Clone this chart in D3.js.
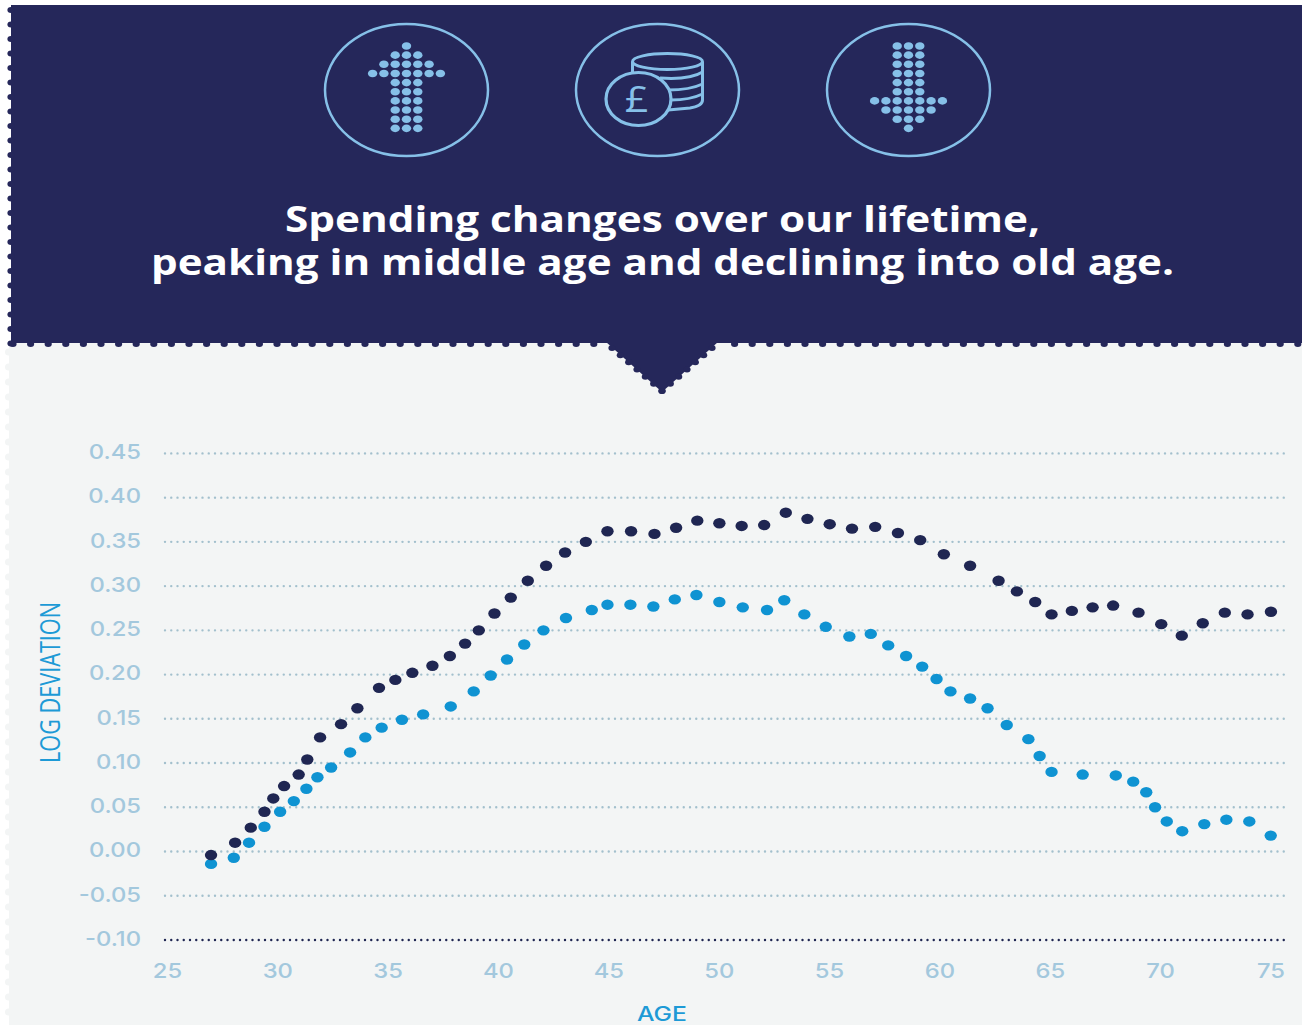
<!DOCTYPE html>
<html><head><meta charset="utf-8">
<script src="https://cdn.jsdelivr.net/npm/d3@7"></script>
<style>html,body{margin:0;padding:0;background:#fff;overflow:hidden}svg{display:block}text{font-family:"Open Sans",sans-serif}</style>
</head><body><svg id="c" width="1302" height="1025"></svg>
<script>
const title = ["Spending changes over our lifetime,", "peaking in middle age and declining into old age."];
const xLabel = "AGE";
const yLabel = "LOG DEVIATION";
const xTicks = [25,30,35,40,45,50,55,60,65,70,75];
const yTicks = [-0.10,-0.05,0,0.05,0.10,0.15,0.20,0.25,0.30,0.35,0.40,0.45];
const darkAges = [27,28.09,28.8,29.42,29.82,30.31,30.97,31.36,31.94,32.89,33.63,34.61,35.35,36.12,37.03,37.82,38.51,39.13,39.84,40.58,41.35,42.18,43.04,43.98,44.96,46.03,47.09,48.07,49.03,50.03,51.04,52.06,53.04,54.02,55.03,56.04,57.09,58.12,59.13,60.2,61.39,62.68,63.51,64.34,65.08,66,66.94,67.87,69.02,70.05,70.98,71.93,72.93,73.96,75.02];
const darkValues = [-0.004,0.010,0.027,0.045,0.060,0.074,0.087,0.104,0.129,0.144,0.162,0.185,0.194,0.202,0.210,0.221,0.235,0.250,0.269,0.287,0.306,0.323,0.338,0.350,0.362,0.362,0.359,0.366,0.374,0.371,0.368,0.369,0.383,0.376,0.370,0.365,0.367,0.360,0.352,0.336,0.323,0.306,0.294,0.282,0.268,0.272,0.276,0.278,0.270,0.257,0.244,0.258,0.270,0.268,0.271];
const lightAges = [27,28.03,28.72,29.42,30.13,30.75,31.32,31.82,32.44,33.3,33.99,34.73,35.65,36.61,37.86,38.9,39.67,40.41,41.19,42.06,43.08,44.25,44.96,46,47.04,48.01,48.99,50.03,51.09,52.19,52.97,53.88,54.85,55.92,56.89,57.68,58.49,59.22,59.87,60.5,61.39,62.18,63.05,64.03,64.54,65.08,66.49,67.99,68.78,69.37,69.77,70.3,71,72,73,74.04,75.01];
const lightValues = [-0.014,-0.007,0.010,0.028,0.045,0.057,0.071,0.084,0.095,0.112,0.129,0.140,0.149,0.155,0.164,0.181,0.199,0.217,0.234,0.250,0.264,0.273,0.279,0.279,0.277,0.285,0.290,0.282,0.276,0.273,0.284,0.268,0.254,0.243,0.246,0.233,0.221,0.209,0.195,0.181,0.173,0.162,0.143,0.127,0.108,0.090,0.087,0.086,0.079,0.067,0.050,0.034,0.023,0.031,0.036,0.034,0.018];
const arrowUpRows = [1,3,5,7,3,3,3,3,3,3];
const arrowDownRows = [3,3,3,3,3,3,7,5,3,1];

const NAVY="#25275a", PANEL="#f3f5f5", ICON="#86c0e8", TICK="#a3c8dd", GRID="#a3c0cd", DARK="#1f2652", LIGHT="#0f93d2", LABEL="#1d9ad6";
const TICKFONT='Inter,"Open Sans",sans-serif';
const svg=d3.select("#c");
const x=d3.scaleLinear().domain([25,75]).range([166.9,1270.5]);
const y=d3.scaleLinear().domain([-0.10,0.45]).range([940,453.4]);
const SX=1.16;

// panels
svg.append("rect").attr("x",9).attr("y",340).attr("width",1293).attr("height",685).attr("fill",PANEL);
svg.append("rect").attr("x",11).attr("y",5).attr("width",1291).attr("height",338).attr("fill",NAVY);
svg.append("path").attr("d","M606,342L662,392L718,342Z").attr("fill",NAVY);
// scalloped edges
const scallops=[];
for(let px=13;px<1302;px+=17.6){ if(px<606||px>718) scallops.push([px,344]); }
for(let py=10;py<344;py+=14.5){ scallops.push([11,py]); }
for(let t=0;t<=1.001;t+=1/6){ scallops.push([612+t*50,348+t*43]); scallops.push([712-t*50,348+t*43]); }
svg.append("g").selectAll("ellipse").data(scallops).join("ellipse")
 .attr("cx",d=>d[0]).attr("cy",d=>d[1]).attr("rx",3.6).attr("ry",3).attr("fill",NAVY);
const lefts=[]; for(let py=352;py<1025;py+=15) lefts.push(py);
svg.append("g").selectAll("circle").data(lefts).join("circle").attr("cx",8.5).attr("cy",d=>d).attr("r",3.5).attr("fill",PANEL);

// icons
const icons=svg.append("g");
[406.5,657.5,908.5].forEach(cx=>icons.append("ellipse").attr("cx",cx).attr("cy",90).attr("rx",81.5).attr("ry",66).attr("fill","none").attr("stroke",ICON).attr("stroke-width",2.5));
function dotArrow(cx,rows){
  const g=icons.append("g");
  rows.forEach((n,r)=>{ for(let i=0;i<n;i++){
    g.append("ellipse").attr("cx",cx+(i-(n-1)/2)*11.3).attr("cy",46+r*9.15).attr("rx",4.7).attr("ry",3.8).attr("fill",ICON);
  }});
}
dotArrow(406.5,arrowUpRows); dotArrow(908.5,arrowDownRows);
// coins
const cg=icons.append("g").attr("fill","none").attr("stroke",ICON).attr("stroke-width",3);
cg.append("ellipse").attr("cx",667.5).attr("cy",61.5).attr("rx",35).attr("ry",8);
cg.append("path").attr("d","M632.5,62V78M702.5,62V100Q702.5,106 690,108L668,110");
cg.append("path").attr("d","M660,78Q690,80 702.5,72");
cg.append("path").attr("d","M668,90Q690,90 702.5,84");
cg.append("path").attr("d","M671,100Q690,100 702.5,94");
icons.append("ellipse").attr("cx",638.5).attr("cy",99).attr("rx",32.5).attr("ry",26.5).attr("fill",NAVY).attr("stroke",ICON).attr("stroke-width",3.2);
icons.append("text").attr("transform","translate(636.5,112) scale(1.12,1)").attr("text-anchor","middle").attr("font-size",37).attr("font-weight",500).attr("fill",ICON).text("£");

// title
const titleBox=[[285,1040,232],[151,1174,275]];
svg.append("g").selectAll("text").data(title).join("text")
 .attr("x",(d,i)=>titleBox[i][0]).attr("y",(d,i)=>titleBox[i][2])
 .attr("textLength",(d,i)=>titleBox[i][1]-titleBox[i][0]).attr("lengthAdjust","spacingAndGlyphs")
 .attr("font-size",35).attr("font-weight",700).attr("fill","#fff").text(d=>d);

// y axis
const yAxis=d3.axisLeft(y).tickValues(yTicks).tickFormat(d=>d3.format(".2f")(d).replace("\u2212","-")).tickSize(0).tickPadding(0);
const yg=svg.append("g").attr("transform","translate(141,0)").call(yAxis);
yg.select(".domain").remove();
yg.selectAll("text").attr("font-size",20.5).attr("font-weight",500).attr("fill",TICK).attr("x",0).attr("dy","0.26em")
  .attr("transform","scale("+SX+",1)").attr("text-anchor","end").style("font-family",TICKFONT);
// grid
svg.append("g").selectAll("line").data(yTicks).join("line")
 .attr("x1",165).attr("x2",1287).attr("y1",d=>y(d)).attr("y2",d=>y(d))
 .attr("stroke",d=>d===-0.10?DARK:GRID).attr("stroke-width",2.4).attr("stroke-linecap","round").attr("stroke-dasharray","0 6.25");

// x axis
const xAxis=d3.axisBottom(x).tickValues(xTicks).tickFormat(d3.format("d")).tickSize(0).tickPadding(0);
const xg=svg.append("g").attr("transform","translate(0,962)").call(xAxis);
xg.select(".domain").remove();
xg.selectAll("text").attr("font-size",20.5).attr("font-weight",500).attr("fill",TICK).attr("y",0).attr("dy","0.76em").attr("x",0)
  .attr("transform","scale("+SX+",1)").style("font-family",TICKFONT);

// axis labels
svg.append("text").attr("x",662).attr("y",1020.5).attr("text-anchor","middle").attr("font-size",19.5).attr("font-weight",500)
  .style("font-family",TICKFONT).attr("fill",LABEL).attr("textLength",50).attr("lengthAdjust","spacingAndGlyphs").text(xLabel);
svg.append("text").attr("transform","translate(60,763) rotate(-90)").attr("font-size",27).attr("font-weight",500).attr("fill",LABEL)
  .attr("textLength",161).attr("lengthAdjust","spacingAndGlyphs").text(yLabel);

// series
function series(ages,vals,col){
  svg.append("g").selectAll("ellipse").data(ages.map((a,i)=>[a,vals[i]])).join("ellipse")
   .attr("cx",d=>x(d[0])).attr("cy",d=>y(d[1])).attr("rx",6.2).attr("ry",5.2).attr("fill",col);
}
series(lightAges,lightValues,LIGHT);
series(darkAges,darkValues,DARK);
</script></body></html>
